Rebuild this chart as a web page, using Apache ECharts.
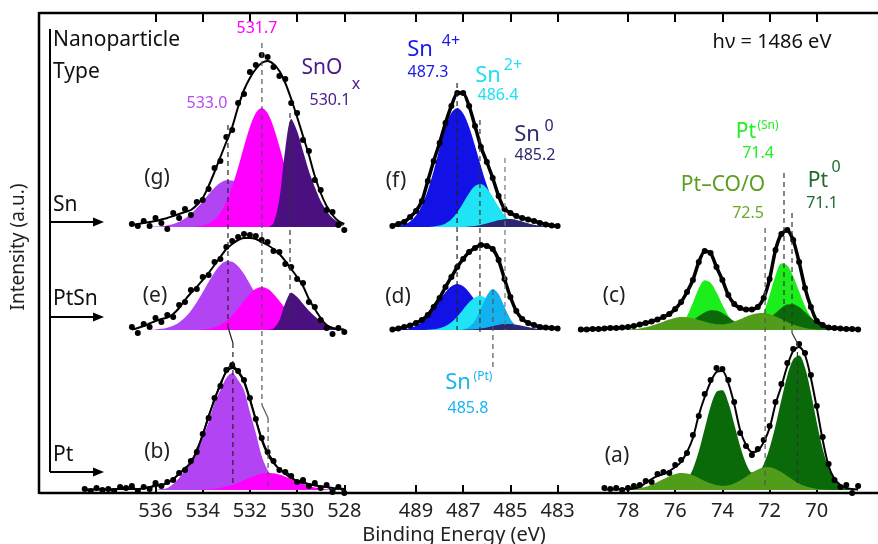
<!DOCTYPE html>
<html><head><meta charset="utf-8">
<script src="https://cdn.jsdelivr.net/npm/echarts@6/dist/echarts.min.js"></script>
<style>html,body{margin:0;padding:0;background:#fff}#c{width:878px;height:544px}</style>
</head><body><div id="c"></div>
<script>
// ---------- energy grids (eV) ----------
const oE = [539,538.75,538.5,538.25,538,537.75,537.5,537.25,537,536.75,536.5,536.25,536,535.75,535.5,535.25,535,534.75,534.5,534.25,534,533.75,533.5,533.25,533,532.75,532.5,532.25,532,531.75,531.5,531.25,531,530.75,530.5,530.25,530,529.75,529.5,529.25,529,528.75,528.5,528.25,528];
const snE = [490,489.75,489.5,489.25,489,488.75,488.5,488.25,488,487.75,487.5,487.25,487,486.75,486.5,486.25,486,485.75,485.5,485.25,485,484.75,484.5,484.25,484,483.75,483.5,483.25,483];
const ptE = [80,79.75,79.5,79.25,79,78.75,78.5,78.25,78,77.75,77.5,77.25,77,76.75,76.5,76.25,76,75.75,75.5,75.25,75,74.75,74.5,74.25,74,73.75,73.5,73.25,73,72.75,72.5,72.25,72,71.75,71.5,71.25,71,70.75,70.5,70.25,70,69.75,69.5,69.25,69,68.75,68.5,68.25];

// ---------- tick labels ----------
const oTicks = [536,534,532,530,528];
const snTicks = [489,487,485,483];
const ptTicks = [78,76,74,72,70];

// ---------- O 1s, Sn nanoparticles (g) ----------
const gO533 = [0,0,0,0,0.4,0.8,1.6,3,5.2,8.5,13,18.9,25.7,32.8,39.3,44.2,46.8,46.5,43.4,38,31.3,24.3,17.6,12,7.7,4.6,2.6,1.4,0.7,0,0,0,0,0,0,0,0];
const gO531 = [0,0,0,0,0,0,0,0,0,0,0,0.6,1.6,3.6,7.5,14.3,25.1,40.4,59.6,80.6,100,114,119,114,100,80.6,59.6,40.4,25.1,14.3,7.5,3.6,1.6,0.6,0,0,0];
const gSnOx = [0,0,0,0,0,0,0,0,0,0,0,0,0,0,0,0,0,0,0,0,0,0,0,0,4,28,78,108,96,76,56,40,26,16,9,5,2];
const gFit = [2,3,4,5,6,7.5,9,11,13,15,17,22,29,41,55,70,85,100,120,137,149,158,164,166,163,156,144,128,110,91,72,51,34,21,12,6,3];
const gData = [3,1,6,1,9,4,-2,14,9,18,12,25,27,38,59,66,90,97,124,133,155,162,172,170,160,151,148,124,114,87,76,47,37,17,15,2,-3];

// ---------- O 1s, PtSn (e) ----------
const eO533 = [0,0,0,0,0.6,1.2,2.3,4.3,7.6,12.5,19.2,27.7,37.7,48.1,57.6,64.9,68.7,68.2,63.7,55.9,46,35.6,25.9,17.7,11.3,6.8,3.9,2.1,1,0,0,0,0,0,0,0,0];
const eO531 = [0,0,0,0,0,0,0,0,0,0,0,0.2,0.6,1.3,2.7,5.2,9.1,14.6,21.5,29.1,36.1,41.2,43,41.2,36.1,29.1,21.5,14.6,9.1,5.2,2.7,1.3,0.6,0.2,0,0,0];
const eSnOx = [0,0,0,0,0,0,0,0,0,0,0,0,0,0,0,0,0,0,0,0,0,0,0,0,1.4,9.7,26.9,37.3,33.1,26.2,19.3,13.8,9,5.5,3.1,1.7,0.7];
const eFit = [0.5,2,4,6.5,9,11,12.5,16,22,30,37,43,50,57,65,73,81,86,90,92,92,91,88,85,81,76,69,61,53,44,31,21,12,5,2,1,0.5];
const eData = [3,-3,6,3,12,8,15,13,25,28,40,41,53,55,68,71,83,89,93,96,95,94,90,88,79,78,66,63,51,47,28,23,10,2,-4,2,-2];

// ---------- O 1s, Pt (b) ----------
const bO533 = [0,0,0,0,0,1,2,6,12,20,27,38,53,68,87,100,112,117,110,100,78,57,34,20,12,7,4,2,1,0,0,0,0,0,0,0,0];
const bO531 = [0,0,0,0,0,0,0,0,0,0,0,0,0.3,0.7,1.2,2.1,3.4,5.1,7.3,9.8,12.3,14.6,16.3,17,16.7,15.4,13.3,10.8,8.3,5.9,4,2.5,1.5,0.8,0.4,0,0];
const bFit = [0.5,0.5,0.5,0.5,0.5,1,1,1,1,1,2,3,4,5,7,11,16,22,27,40,55,74,90,106,118,122,118,108,90,70,50,36,27,21,16,12,9,7,6,4.5,3.5,3,2,1.5,1];
const bData = [1,-1,2,0,1,-1,3,2,4,-1,3,1,7,4,8,10,17,20,29,38,56,72,92,104,120,125,119,110,92,71,52,38,29,20,18,14,8,10,4,7,2,5,-2,3,-3];

// ---------- Sn 3d, Sn (f) ----------
const fSn4 = [0.4,1,2.4,5.6,11.5,21.5,36.5,56.2,78.5,99.4,114.2,119,113.5,100,81.2,60.8,42,26.8,15.7,8.5,4.3,2,0.8,0.3,0.1,0,0,0,0];
const fSn2 = [0,0,0,0,0,0,0,0.5,1.4,3.6,7.8,14.8,24.1,33.8,41,42.9,38.7,30.1,20.2,11.7,5.8,2.5,0.9,0.3,0,0,0,0,0];
const fSn0 = [0,0,0,0,0,0,0,0,0,0,0,0,0,0.5,1.1,2.1,3.5,5.2,6.8,7.8,7.9,7.1,5.6,3.8,2.3,1.2,0.6,0.3,0.1];
const fData = [1,3,5,10,16,26,46,66,84,104,121,134,134,121,101,80,65,49,31,18,14,11,9,7.5,6,4,2.5,1.5,1];

// ---------- Sn 3d, PtSn (d) ----------
const dSn4 = [0.1,0.3,0.9,2,4.2,7.9,13.6,21.1,29.6,37.8,43.8,46,43.8,37.8,29.6,21.1,13.6,7.9,4.2,2,0.9,0.3,0.1,0,0,0,0,0,0];
const dSn2 = [0,0,0,0,0,0,0.2,0.7,1.8,4,7.8,13.5,20.6,27.7,32.6,33.9,31,25,17.7,11,6.1,2.9,1.2,0.5,0.2,0,0,0,0];
const dSnPt = [0,0,0,0,0,0,0,0,0,0,0,0,0.8,3.1,9.5,21,34.2,41,36,23.2,11,3.8,1,0.2,0,0,0,0,0];
const dSn0 = [0,0,0,0,0,0,0,0,0,0,0,0,0,0.4,0.8,1.6,2.6,3.9,5.1,5.9,5.9,5.3,4.2,2.9,1.7,0.9,0.5,0.2,0.1];
const dData = [0.5,1.5,3,4.5,7,10,15,23,32,43,53,63,71,78,82,85,84,81,70,51,33,19,11,7,5,3,2.5,2,1.5];

// ---------- Pt 4f, PtSn (c) ----------
const cPtSn = [0,0,0,0,0,0,0,0,0,0,0,0,0,0,0,0.4,1.7,5.5,13.9,27.3,41.8,49.8,47.3,37.7,25.3,14.3,6.8,2.7,1.4,2.4,6.8,17.5,35,54.6,66.4,64.5,53.8,38.8,24.1,12.9,6,2.4,0.8,0.2,0,0,0,0];
const cPt0 = [0,0,0,0,0,0,0,0,0,0,0,0,0,0,0.2,0.6,1.5,3.1,5.8,9.6,13.9,17.6,19.8,19.5,17,13,8.7,5.2,3.3,2.8,4,6.7,11.4,16.9,22.1,25.4,25.7,22.9,18,12.4,7.6,4.1,1.9,0.8,0.3,0,0,0];
const cPtCO = [0,0,0,0,0,0,0,0,0.4,0.9,1.6,2.7,4.2,6.2,8.3,10.4,12.1,12.9,12.8,11.8,10,8.4,6.7,5.7,5.6,6.5,8.3,10.7,13.3,15.4,16.8,16.9,15.8,13.6,10.9,8.1,5.5,3.5,2.1,1.1,0.6,0.3,0,0,0,0,0,0];
const cData = [0.5,0.5,1,1,1.5,2,2,2.5,3,4,5.5,7,8.5,10.5,13,16,21,28,38,50,68,79,77,63,50,35,26,22,20.5,20.5,23,32,51,80,96,100,90,68,42,23,9,5,2.5,2,1.5,1,1,0.5];

// ---------- Pt 4f, Pt (a) ----------
const aPt0 = [0,0,0,0,0,0,0,0,0,0,0,0,0,0,0,0.4,1.4,4,9.9,21.1,38.7,61.3,83.6,98.3,99.8,87.4,66,43.9,26.6,17.6,17.5,25.8,41.9,64.3,90.3,114.3,130.7,134.6,122.5,97.3,67.6,41,21.7,10.1,4.1,1.4,0.4,0.1];
const aPtCO = [0,0,0,0,0,0,0,0,0.4,0.9,1.8,3.2,5.3,7.9,10.9,13.8,16,17,16.5,14.8,12.1,9.1,6.7,4.9,4.2,4.7,6.5,9.5,13.2,17.2,20.6,22.6,22.8,21.1,17.9,14,10,6.5,3.9,2.2,1.1,0.5,0.2,0,0,0,0,0];
const aFit = [0.5,0.5,0.5,1,1,1.5,3,7,11,14,16,19,23,28,38,52,75,93,108,118,119,107,86,60,45,38,39,48,62,86,104,124,139,143,135,112,82,50,24,11,5,2,1,0.5];
const aData = [2,1,2,0,2,4,5,9,8,16,18,17,25,30,37,55,74,96,110,122,121,110,88,57,44,35,41,50,64,88,106,127,141,146,137,115,84,53,26,10,3,5,-3,4];

// ---------- peak marker energies (eV) ----------
const oMarks = [532.93, 532.72, 531.49, 531.23, 530.30];
const snMarks = [487.26, 486.29, 485.23, 485.74];
const ptMarks = [72.19, 71.39, 71.05, 70.82];

// ---------- layout ----------
const OFF = {Sn: 266, PtSn: 163, Pt: 3};
const FONT = '"Noto Sans", "Open Sans", sans-serif';
const C = {lp:'#b244f4', mg:'#ff00ff', dp:'#4a1080', blue:'#1212e6', cyan:'#1ee4f6', skyb:'#12b2f0', navy:'#2a2870',
           bg:'#1cee1c', dg:'#0a6a0a', ol:'#519c1a'};

function pts(E, v, off){ const s = E.length - v.length; return v.map((y,i)=> y==null?null:[E[s+i], y+off]); }
function area(gi, E, v, off, color){
  return {type:'line', xAxisIndex:gi*2, yAxisIndex:gi, data:pts(E,v,off), smooth:0.3, symbol:'none',
    lineStyle:{width:0}, areaStyle:{color:color, opacity:1, origin:off}, silent:true, z:2};
}
function fit(gi, E, v, off, w){
  return {type:'line', xAxisIndex:gi*2, yAxisIndex:gi, data:pts(E,v,off), smooth:0.3, symbol:'none',
    lineStyle:{color:'#000', width:w}, silent:true, z:4};
}
function dots(gi, E, v, off, lw){
  return {type:'line', xAxisIndex:gi*2, yAxisIndex:gi, data:pts(E,v,off), smooth:0.2, symbol:'circle', symbolSize:6,
    showAllSymbol:true, itemStyle:{color:'#000'}, lineStyle:{color:'#000', width:lw}, silent:true, z:5};
}
function seg(gi, arr, color, dashed){
  return {type:'line', xAxisIndex:gi*2, yAxisIndex:gi, data:arr, symbol:'none', silent:true, z:6,
    lineStyle:{color:color, width:1.2, type: dashed?[5,4]:'solid'}};
}
function xa(gi, min, max, ticks, pos){
  return {type:'value', gridIndex:gi, min:min, max:max, inverse:true, position:pos,
    axisLine:{show:false}, splitLine:{show:false},
    axisTick:{show:true, inside:true, length: pos==='top'?9:8, lineStyle:{color:'#000', width:2}, customValues:ticks},
    axisLabel:{show: pos==='bottom', customValues:ticks, color:'#222', fontSize:20, fontFamily:FONT, margin:8}};
}

const series = [
  // O1s
  area(0, oE, gO533, OFF.Sn, C.lp), area(0, oE, gO531, OFF.Sn, C.mg), area(0, oE, gSnOx, OFF.Sn, C.dp),
  area(0, oE, eO533, OFF.PtSn, C.lp), area(0, oE, eO531, OFF.PtSn, C.mg), area(0, oE, eSnOx, OFF.PtSn, C.dp),
  area(0, oE, bO533, OFF.Pt, C.lp), area(0, oE, bO531, OFF.Pt, C.mg),
  fit(0, oE, gFit, OFF.Sn, 2), dots(0, oE, gData, OFF.Sn, 0),
  fit(0, oE, eFit, OFF.PtSn, 2), dots(0, oE, eData, OFF.PtSn, 0),
  fit(0, oE, bFit, OFF.Pt, 2), dots(0, oE, bData, OFF.Pt, 1.5),
  // Sn3d
  area(1, snE, fSn4, OFF.Sn, C.blue), area(1, snE, fSn2, OFF.Sn, C.cyan), area(1, snE, fSn0, OFF.Sn, C.navy),
  area(1, snE, dSn4, OFF.PtSn, C.blue), area(1, snE, dSn2, OFF.PtSn, C.cyan), area(1, snE, dSnPt, OFF.PtSn, C.skyb), area(1, snE, dSn0, OFF.PtSn, C.navy),
  dots(1, snE, fData, OFF.Sn, 3.5), dots(1, snE, dData, OFF.PtSn, 3.5),
  // Pt4f
  area(2, ptE, cPtSn, OFF.PtSn, C.bg), area(2, ptE, cPt0, OFF.PtSn, C.dg), area(2, ptE, cPtCO, OFF.PtSn, C.ol),
  area(2, ptE, aPt0, OFF.Pt, C.dg), area(2, ptE, aPtCO, OFF.Pt, C.ol),
  dots(2, ptE, cData, OFF.PtSn, 3.5),
  fit(2, ptE, aFit, OFF.Pt, 2), dots(2, ptE, aData, OFF.Pt, 0),
  // peak markers
  seg(0, [[oMarks[0],368],[oMarks[0],166]], '#222', true),
  seg(0, [[oMarks[0],166],[oMarks[1],150]], '#222', false),
  seg(0, [[oMarks[1],150],[oMarks[1],6]], '#222', true),
  seg(0, [[oMarks[2],450],[oMarks[2],88]], '#555', true),
  seg(0, [[oMarks[2],88],[oMarks[3],75]], '#555', false),
  seg(0, [[oMarks[3],75],[oMarks[3],6]], '#555', true),
  seg(0, [[oMarks[4],380],[oMarks[4],173]], '#333', true),
  seg(1, [[snMarks[0],410],[snMarks[0],163]], '#222', true),
  seg(1, [[snMarks[1],373],[snMarks[1],160]], '#333', true),
  seg(1, [[snMarks[2],335],[snMarks[2],163]], '#777', true),
  seg(1, [[snMarks[3],203],[snMarks[3],126]], '#555', true),
  seg(2, [[ptMarks[0],265],[ptMarks[0],6]], '#555', true),
  seg(2, [[ptMarks[1],320],[ptMarks[1],163]], '#333', true),
  seg(2, [[ptMarks[2],280],[ptMarks[2],160]], '#333', true),
  seg(2, [[ptMarks[2],160],[ptMarks[3],150]], '#333', false),
  seg(2, [[ptMarks[3],150],[ptMarks[3],6]], '#333', true)
];

function T(x, y, text, size, color, align, extra){
  return Object.assign({type:'text', x:x, y:y, silent:true, z:100,
    style:{text:text, font: size+'px '+FONT, fill:color, textAlign:align||'center', textVerticalAlign:'middle'}}, extra||{});
}
function L(x1, y1, x2, y2, w){ return {type:'line', shape:{x1:x1, y1:y1, x2:x2, y2:y2}, style:{stroke:'#000', lineWidth:w}, silent:true, z:50}; }
const graphics = [
  L(39, 13, 878, 13, 2.5), L(39, 493, 878, 493, 2.5), L(39, 12, 39, 494, 2.5),
  L(50, 29, 50, 472, 2),
  L(50, 222, 96, 222, 2),
  {type:'polygon', shape:{points:[[93,217.5],[104,222],[93,226.5]]}, style:{fill:'#000'}, silent:true, z:50},
  L(50, 317, 96, 317, 2),
  {type:'polygon', shape:{points:[[93,312.5],[104,317],[93,321.5]]}, style:{fill:'#000'}, silent:true, z:50},
  L(50, 472, 96, 472, 2),
  {type:'polygon', shape:{points:[[93,467.5],[104,472],[93,476.5]]}, style:{fill:'#000'}, silent:true, z:50},
  T(53, 40, 'Nanoparticle', 21, '#111', 'left'),
  T(53, 72, 'Type', 21, '#111', 'left'),
  T(53, 205, 'Sn', 21, '#111', 'left'),
  T(53, 299, 'PtSn', 21, '#111', 'left'),
  T(53, 455, 'Pt', 21, '#111', 'left'),
  T(157, 178, '(g)', 21, '#222'), T(155, 296, '(e)', 21, '#222'), T(157, 452, '(b)', 21, '#222'),
  T(396, 181, '(f)', 21, '#222'), T(398, 297, '(d)', 21, '#222'),
  T(614, 296, '(c)', 21, '#222'), T(617, 456, '(a)', 21, '#222'),
  T(257, 28, '531.7', 16, '#ff00ff'),
  T(207, 103, '533.0', 16, '#b44cf0'),
  T(322, 68, 'SnO', 21, '#4b1a8a'), T(356, 84, 'x', 16, '#4b1a8a'), T(330, 100, '530.1', 16, '#4b1a8a'),
  T(420, 50, 'Sn', 22, '#1a1ae6'), T(451, 41, '4+', 16, '#1a1ae6'), T(428, 72, '487.3', 16, '#1a1ae6'),
  T(488, 76, 'Sn', 22, '#1fe0f2'), T(513, 65, '2+', 16, '#1fe0f2'), T(498, 95, '486.4', 16, '#1fe0f2'),
  T(527, 135, 'Sn', 22, '#2b2b6e'), T(549, 126, '0', 16, '#2b2b6e'), T(535, 155, '485.2', 16, '#2b2b6e'),
  T(458, 383, 'Sn', 22, '#1ab4f0'), T(483, 377, '(Pt)', 12, '#1ab4f0'), T(468, 408, '485.8', 16, '#1ab4f0'),
  T(772, 42, 'hν = 1486 eV', 20, '#111'),
  T(746, 132, 'Pt', 21, '#22ee22'), T(768, 126, '(Sn)', 12, '#22ee22'), T(758, 153, '71.4', 16, '#22ee22'),
  T(723, 185, 'Pt–CO/O', 21, '#5a9e22'), T(748, 213, '72.5', 16, '#6aa82a'),
  T(818, 181, 'Pt', 21, '#1f6b2f'), T(836, 167, '0', 16, '#1f6b2f'), T(822, 203, '71.1', 16, '#1f6b2f'),
  T(454, 535, 'Binding Energy (eV)', 20, '#222'),
  T(19, 247, 'Intensity (a.u.)', 19, '#222', 'center', {rotation: Math.PI/2})
];

const chart = echarts.init(document.getElementById('c'), null, {renderer:'canvas'});
chart.setOption({
  animation:false,
  backgroundColor:'#fff',
  grid:[{left:72.9, top:13, width:283.2, height:480}, {left:380.6, top:13, width:188.8, height:480}, {left:574.9, top:13, width:289.1, height:480}],
  xAxis:[xa(0,527.5,539.5,oTicks,'bottom'), xa(0,527.5,539.5,oTicks,'top'),
         xa(1,482.5,490.5,snTicks,'bottom'), xa(1,482.5,490.5,snTicks,'top'),
         xa(2,68,80.25,ptTicks,'bottom'), xa(2,68,80.25,ptTicks,'top')],
  yAxis:[0,1,2].map(gi=>({type:'value', gridIndex:gi, min:0, max:480, show:false})),
  series: series,
  graphic: graphics
});
</script>
</body></html>
